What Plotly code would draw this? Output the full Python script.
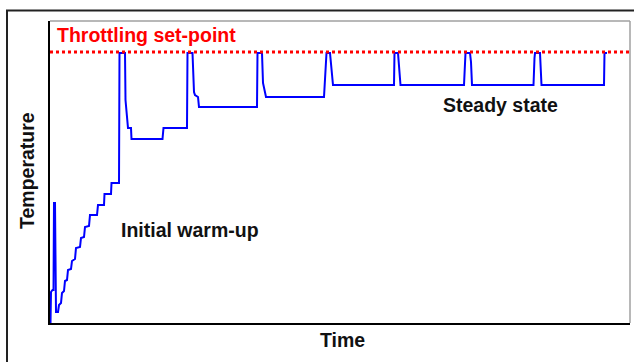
import plotly.graph_objects as go

# Data (arbitrary units)
time = [0.5, 1, 2.5, 3.5, 4, 5, 6, 8, 9, 11, 12, 14, 15, 17, 18, 21, 22, 25, 26, 30,
        31, 34, 35, 39, 40, 47, 48, 54, 54.5, 61, 61.5, 69, 69.5, 75, 75.5, 77, 78, 81,
        81.5, 112.5, 113.5, 137, 137.5, 142.5, 144, 145, 148, 149, 207, 207.5, 212, 213,
        215, 216, 274, 276.5, 280, 281.5, 283, 344, 344.5, 348, 350.5, 414, 415, 415.5,
        420, 421, 422, 483.5, 484.5, 485, 490, 491.5, 554, 554.5, 557]
temperature = [0, 31, 33, 33, 120, 120, 11, 11, 18, 20, 30, 32, 42, 43, 53, 54, 62, 64, 75, 76,
               85, 86, 96, 97, 108, 108, 118, 118, 129, 129, 140, 140, 270, 270, 223, 206, 195, 195,
               184, 184, 195, 195, 270, 270, 231, 228, 226, 216, 216, 270, 270, 240,
               228, 226, 226, 270, 270, 250, 238, 238, 270, 270, 238, 238, 268, 270,
               270, 261, 238, 238, 265, 270, 270, 238, 238, 270, 270]
setpoint_time = [0, 580]
setpoint_temp = [271, 271]

labels = {
    "setpoint": "Throttling set-point",
    "warmup": "Initial warm-up",
    "steady": "Steady state",
    "xtitle": "Time",
    "ytitle": "Temperature",
}

FONT = "Arial, Liberation Sans, sans-serif"
FS = 19.5

fig = go.Figure()
fig.add_trace(go.Scatter(x=time, y=temperature, mode="lines",
                         line=dict(color="#0000ff", width=2), hoverinfo="skip"))
fig.add_trace(go.Scatter(x=setpoint_time, y=setpoint_temp, mode="lines",
                         line=dict(color="#ff0000", width=3, dash="dot"), hoverinfo="skip"))

fig.update_layout(
    width=634, height=362,
    margin=dict(l=50, r=4, t=21, b=39),
    paper_bgcolor="white", plot_bgcolor="white",
    showlegend=False,
    xaxis=dict(range=[0, 580], showgrid=False, zeroline=False, showticklabels=False,
               ticks="", showline=True, linecolor="black", linewidth=2, fixedrange=True),
    yaxis=dict(range=[0, 302], showgrid=False, zeroline=False, showticklabels=False,
               ticks="", showline=True, linecolor="black", linewidth=2, fixedrange=True),
    shapes=[
        # outer frame
        dict(type="rect", xref="paper", yref="paper", x0=-43/580, y0=-0.2, x1=1.03, y1=(323-10.5)/302,
             line=dict(color="#222222", width=2), fillcolor="rgba(0,0,0,0)", layer="above"),
        # top and right plot border (gray)
        dict(type="line", xref="paper", yref="paper", x0=0, y0=1, x1=1, y1=1,
             line=dict(color="#a0a0a0", width=1.5), layer="above"),
        dict(type="line", xref="paper", yref="paper", x0=1, y0=0, x1=1, y1=1,
             line=dict(color="#a0a0a0", width=1.5), layer="above"),
    ],
    annotations=[
        dict(text=labels["setpoint"], x=5, y=288, xref="x", yref="y", xanchor="left", yanchor="middle",
             showarrow=False, font=dict(family=FONT, size=FS, color="#ff0000", weight="bold")),
        dict(text=labels["warmup"], x=69, y=93, xref="x", yref="y", xanchor="left", yanchor="middle",
             showarrow=False, font=dict(family=FONT, size=FS, color="#111111", weight="bold")),
        dict(text=labels["steady"], x=391, y=217.7, xref="x", yref="y", xanchor="left", yanchor="middle",
             showarrow=False, font=dict(family=FONT, size=FS, color="#111111", weight="bold")),
        dict(text=labels["xtitle"], x=292.7/580, y=(323-340)/302, xref="paper", yref="paper",
             xanchor="center", yanchor="middle", showarrow=False,
             font=dict(family=FONT, size=FS, color="#111111", weight="bold")),
        dict(text=labels["ytitle"], x=(27-50)/580, y=(323-171)/302, xref="paper", yref="paper",
             xanchor="center", yanchor="middle", textangle=-90, showarrow=False,
             font=dict(family=FONT, size=FS, color="#111111", weight="bold")),
    ],
)

fig.write_html("out.html", config={"displayModeBar": False},
               post_script="document.body.style.margin='0';document.body.style.overflow='hidden';")
